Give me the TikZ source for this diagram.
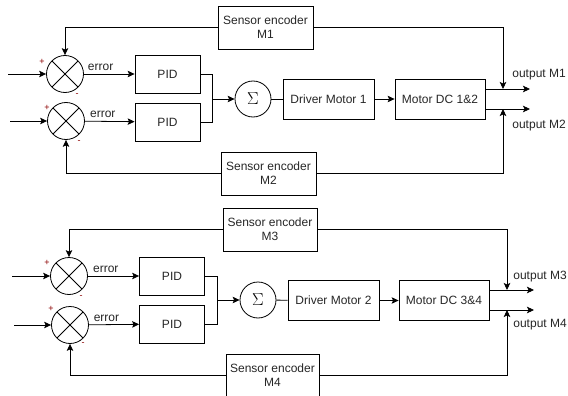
\documentclass[tikz,border=0pt]{standalone}
\usepackage{fontspec}
\setmainfont{Liberation Sans}
\usetikzlibrary{arrows.meta,positioning}
\tikzset{
  blok/.style={draw,line width=0.8pt,minimum width=65pt,minimum height=38pt,inner sep=2pt,
    font=\fontsize{12}{14}\selectfont,text=black!85},
  enc/.style={blok,minimum width=95pt,minimum height=43pt,align=center},
  sumx/.style={circle,draw,line width=0.8pt,minimum size=37pt,inner sep=0pt,
    path picture={\draw[line width=0.8pt]
      (path picture bounding box.north west) -- (path picture bounding box.south east)
      (path picture bounding box.south west) -- (path picture bounding box.north east);}},
  sig/.style={circle,draw,line width=0.8pt,minimum size=36pt,inner sep=0pt,font=\fontsize{17}{17}\selectfont},
  txt/.style={inner sep=1pt,font=\fontsize{12}{14}\selectfont,text=black!85},
  pm/.style={inner sep=0pt,font=\fontsize{9}{9}\selectfont,text=red!55!black}
}

\begin{document}
\begin{tikzpicture}[x=1pt,y=-1pt,line width=0.8pt,
  >={Stealth[length=7pt,width=6.5pt,inset=1.5pt]}]
  \useasboundingbox (0,0) rectangle (568,396);
  % motors 1 and 2
  \node[sumx] (s1) at (65,74) {};
  \node[sumx] (s2) at (66,121) {};
  \node[blok] (pid1) at (167.5,74) {PID};
  \node[blok] (pid2) at (167.5,122) {PID};
  \node[sig] (sig1) at (253,99) {$\Sigma$};
  \node[blok,minimum width=91pt,minimum height=40pt] (drv1) at (328.5,99) {Driver Motor 1};
  \node[blok,minimum width=90pt,minimum height=40pt] (dc1) at (440,99) {Motor DC 1\&2};
  \node[enc] (enc1) at (265.5,27.5) {Sensor encoder\\M1};
  \node[enc] (enc2) at (268.5,173.5) {Sensor encoder\\M2};
  \coordinate (in1) at (8,74);
  \coordinate (in2) at (10,121);
  \coordinate (j1) at (212,99);
  \coordinate (o1) at (530,89);
  \coordinate (o2) at (530,109);
  \coordinate (f1) at (503,89);
  \coordinate (f2) at (503,109);
  \node[pm] (p1) at (42,62) {+};
  \node[pm] (p2) at (47,108) {+};
  \node[pm] (n1) at (77,95) {-};
  \node[pm] (n2) at (79,142) {-};
  \draw[->] (in1) -- (s1);
  \draw[->] (in2) -- (s2);
  \draw[->] (s1) -- node[txt,pos=0.33,above=2pt]{error} (pid1);
  \draw[->] (s2) -- node[txt,pos=0.36,above=2pt]{error} (pid2);
  \draw (pid1) -| (j1);
  \draw (pid2) -| (j1);
  \draw[->] (j1) -- (sig1);
  \draw (sig1) -- (drv1);
  \draw[->] (drv1) -- (dc1);
  \draw[->] (dc1.east |- o1) -- (o1);
  \draw[->] (dc1.east |- o2) -- (o2);
  \draw[->] (enc1) -| (s1);
  \draw[->] (enc1) -| (f1);
  \draw[->] (enc2) -| (s2);
  \draw[->] (enc2) -| (f2);
  \node[txt,anchor=west] (lo1) at (511,75) {output M1};
  \node[txt,anchor=west] (lo2) at (511,126) {output M2};
  % motors 3 and 4
  \node[sumx] (s3) at (69,276) {};
  \node[sumx] (s4) at (70,325) {};
  \node[blok] (pid3) at (172,276) {PID};
  \node[blok] (pid4) at (172,324) {PID};
  \node[sig] (sig2) at (258,300) {$\Sigma$};
  \node[blok,minimum width=91pt,minimum height=40pt] (drv2) at (333.5,300.5) {Driver Motor 2};
  \node[blok,minimum width=90pt,minimum height=40pt] (dc2) at (444,300.5) {Motor DC 3\&4};
  \node[enc,minimum width=94pt] (enc3) at (270,229.5) {Sensor encoder\\M3};
  \node[enc,minimum width=93pt] (enc4) at (272.5,375.5) {Sensor encoder\\M4};
  \coordinate (in3) at (12,276);
  \coordinate (in4) at (14,325);
  \coordinate (j2) at (217,300);
  \coordinate (o3) at (534,290);
  \coordinate (o4) at (534,310);
  \coordinate (f3) at (507,290);
  \coordinate (f4) at (507,310);
  \node[pm] (p3) at (47,263) {+};
  \node[pm] (p4) at (51,309) {+};
  \node[pm] (n3) at (81,297) {-};
  \node[pm] (n4) at (83,344) {-};
  \draw[->] (in3) -- (s3);
  \draw[->] (in4) -- (s4);
  \draw[->] (s3) -- node[txt,pos=0.35,above=2pt]{error} (pid3);
  \draw[->] (s4) -- node[txt,pos=0.35,above=2pt]{error} (pid4);
  \draw (pid3) -| (j2);
  \draw (pid4) -| (j2);
  \draw[->] (j2) -- (sig2);
  \draw (sig2) -- (drv2);
  \draw[->] (drv2) -- (dc2);
  \draw[->] (dc2.east |- o3) -- (o3);
  \draw[->] (dc2.east |- o4) -- (o4);
  \draw[->] (enc3) -| (s3);
  \draw[->] (enc3) -| (f3);
  \draw[->] (enc4) -| (s4);
  \draw[->] (enc4) -| (f4);
  \node[txt,anchor=west] (lo3) at (512,277) {output M3};
  \node[txt,anchor=west] (lo4) at (512,325) {output M4};
\end{tikzpicture}
\end{document}
